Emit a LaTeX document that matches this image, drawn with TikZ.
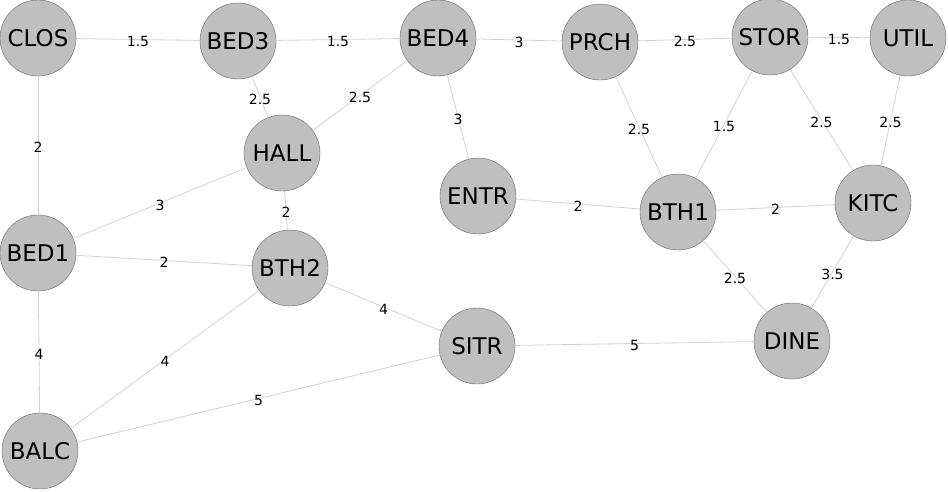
\documentclass[tikz,border=0pt]{standalone}
\usepackage{fontspec}
\setmainfont{DejaVu Sans}
\usepackage{tikz}

\tikzset{
    room/.style={draw=gray!80!black, fill=gray!50, circle, minimum size=76pt, inner sep=0pt, font=\fontsize{23}{23}\selectfont},
    link/.style={draw=gray!35, line width=0.8pt},
    weight/.style={font=\fontsize{14}{14}\selectfont, inner sep=0pt}
}

\begin{document}
\begin{tikzpicture}[x=1pt, y=-1pt]
                    \useasboundingbox (0,0) rectangle (948,491);

                    % Rooms
                    \node[room] (CLOS) at (38,38) {CLOS};
                    \node[room] (BED3) at (238,41) {BED3};
                    \node[room] (BED4) at (438,38) {BED4};
                    \node[room] (PRCH) at (600,42) {PRCH};
                    \node[room] (STOR) at (770,37) {STOR};
                    \node[room] (UTIL) at (908,38) {UTIL};
                    \node[room] (HALL) at (282,153) {HALL};
                    \node[room] (ENTR) at (478,196) {ENTR};
                    \node[room] (BTH1) at (678,212) {BTH1};
                    \node[room] (KITC) at (873,203) {KITC};
                    \node[room] (BED1) at (38,253) {BED1};
                    \node[room] (BTH2) at (290,268) {BTH2};
                    \node[room] (SITR) at (477,346) {SITR};
                    \node[room] (DINE) at (792,341) {DINE};
                    \node[room] (BALC) at (40,451) {BALC};

                    % Weighted connections between rooms
                    \foreach \a/\b/\w in {CLOS/BED3/1.5, BED3/BED4/1.5, BED4/PRCH/3, PRCH/STOR/2.5,
                                          STOR/UTIL/1.5, CLOS/BED1/2, BED3/HALL/2.5, BED4/HALL/2.5,
                                          BED4/ENTR/3, PRCH/BTH1/2.5, STOR/BTH1/1.5, STOR/KITC/2.5,
                                          UTIL/KITC/2.5, HALL/BED1/3, HALL/BTH2/2, ENTR/BTH1/2,
                                          BTH1/KITC/2, BED1/BTH2/2, BTH1/DINE/2.5, KITC/DINE/3.5,
                                          BTH2/SITR/4, BED1/BALC/4, BTH2/BALC/4, SITR/DINE/5,
                                          BALC/SITR/5}
                    {
                        \draw[link] (\a) -- node[weight, yshift=-2pt] {\w} (\b);
                    }
                \end{tikzpicture}
\end{document}
